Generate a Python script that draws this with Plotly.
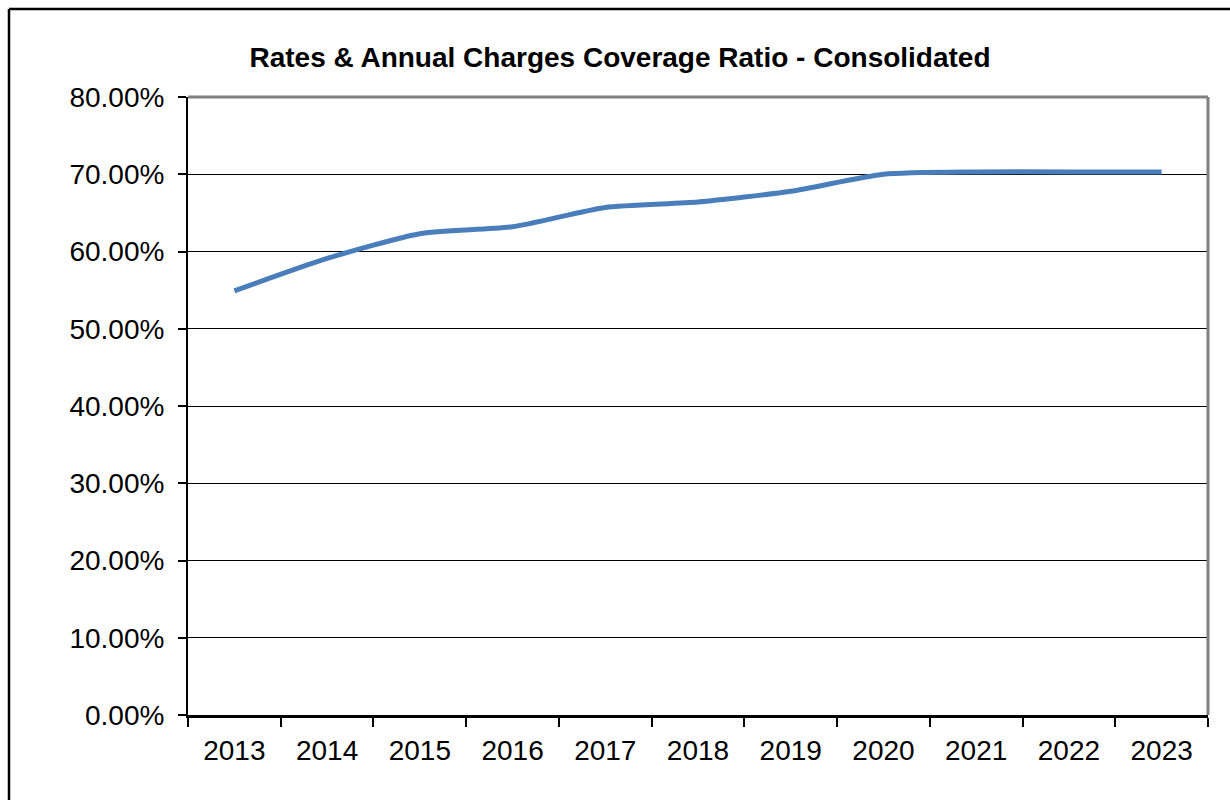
import plotly.graph_objects as go

# Coverage ratio by financial year (%)
years = ["2013", "2014", "2015", "2016", "2017", "2018", "2019", "2020", "2021", "2022", "2023"]
coverage_pct = [54.9, 59.1, 62.3, 63.2, 65.7, 66.4, 67.8, 70.0, 70.3, 70.3, 70.3]
y_ticks = [0, 10, 20, 30, 40, 50, 60, 70, 80]

W, H = 1230, 800
L, R, T, B = 188, 22, 97, 85
PW, PH = W - L - R, H - T - B


def px_x(px):
    return (px - L) / PW


def px_y(py):
    return (H - B - py) / PH


fig = go.Figure()
fig.add_trace(go.Scatter(
    x=years, y=coverage_pct, mode="lines",
    line=dict(color="#4a7ebb", width=5, shape="spline", smoothing=0.6),
    hoverinfo="x+y", showlegend=False,
))

font = "Liberation Sans, Arial, sans-serif"

fig.update_layout(
    width=W, height=H,
    margin=dict(l=L, r=R, t=T, b=B),
    paper_bgcolor="white", plot_bgcolor="white",
    title=dict(text="<b>Rates & Annual Charges Coverage Ratio - Consolidated</b>",
               x=620 / W, xanchor="center", y=1 - 57 / H, yanchor="middle",
               font=dict(family=font, size=28, color="black")),
    xaxis=dict(
        type="category", tickson="boundaries", ticks="outside", ticklen=9,
        tickcolor="black", tickwidth=2,
        showline=True, linecolor="black", linewidth=3,
        showgrid=False, zeroline=False,
        tickfont=dict(family=font, size=28, color="black"),
        ticklabelstandoff=8,
        range=[-0.5, len(years) - 0.5],
    ),
    yaxis=dict(
        range=[0, 80], tickvals=y_ticks,
        ticktext=[f"{v:.2f}%" for v in y_ticks],
        ticks="outside", ticklen=8, tickcolor="black", tickwidth=2,
        showline=True, linecolor="black", linewidth=2,
        showgrid=True, gridcolor="black", gridwidth=1,
        zeroline=False,
        tickfont=dict(family=font, size=28, color="black"),
        ticklabelstandoff=8,
    ),
    shapes=[
        # grey frame on top and right of the plot area
        dict(type="line", xref="paper", yref="paper", x0=0, x1=1, y0=1, y1=1,
             line=dict(color="#808080", width=3), layer="above"),
        dict(type="line", xref="paper", yref="paper", x0=1, x1=1, y0=0, y1=1,
             line=dict(color="#808080", width=3), layer="above"),
        # outer chart border
        dict(type="line", xref="paper", yref="paper",
             x0=px_x(9), x1=px_x(1240), y0=px_y(9), y1=px_y(9),
             line=dict(color="black", width=2.5)),
        dict(type="line", xref="paper", yref="paper",
             x0=px_x(9), x1=px_x(9), y0=px_y(9), y1=px_y(810),
             line=dict(color="black", width=2.5)),
    ],
)

fig.write_html("out.html")
